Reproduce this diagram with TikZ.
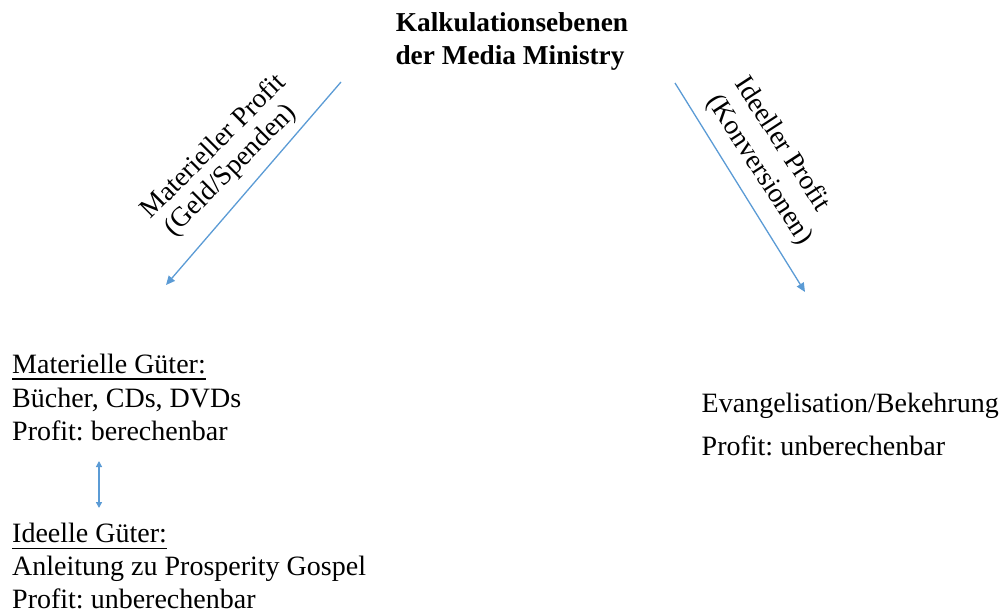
\documentclass[tikz,border=0pt]{standalone}
\usepackage{fontspec}
\setmainfont{Liberation Serif}
\usetikzlibrary{arrows.meta}
\definecolor{arrowblue}{HTML}{5B9BD5}
\begin{document}
\frenchspacing
\begin{tikzpicture}[x=1pt,y=-1pt,
  txt/.style={inner sep=0pt,font=\fontsize{28}{33}\selectfont},
  lbl/.style={txt,anchor=base west},
  rot/.style={inner sep=0pt,anchor=center,font=\fontsize{27.5}{33}\selectfont},
  ttl/.style={inner sep=0pt,anchor=base,font=\fontsize{27.3}{33}\selectfont\bfseries},
  flow/.style={draw=arrowblue,line width=1.3pt,-{Triangle[length=9pt,width=8pt]}},
  dflow/.style={draw=arrowblue,line width=1.3pt,{Triangle[length=6pt,width=6pt]}-{Triangle[length=6pt,width=6pt]}},
  uline/.style={line width=1.2pt}]
\useasboundingbox (0,0) rectangle (1003,612);
% title
\node[ttl] (t1) at (512,32) {Kalkulationsebenen};
\node[ttl] (t2) at (510,65) {der Media Ministry};
% arrows
\coordinate (la) at (341,82);
\coordinate (lb) at (166,285);
\coordinate (ra) at (675,83);
\coordinate (rb) at (805,292);
\draw[flow] (la) -- (lb);
\draw[flow] (ra) -- (rb);
% rotated labels
\node[rot,rotate=45] (ml1) at (212,145) {Materieller Profit};
\node[rot,rotate=45] (ml2) at (231,171) {(Geld/Spenden)};
\node[rot,rotate=-57] (il1) at (784,143) {Ideeller Profit};
\node[rot,rotate=-57] (il2) at (759,170) {(Konversionen)};
% left block
\node[lbl] (m1) at (12,373) {Materielle Güter:};
\node[lbl] (m2) at (12,407) {Bücher, CDs, DVDs};
\node[lbl] (m3) at (12,440) {Profit: berechenbar};
\draw[uline] ([yshift=-6pt]m1.base west) -- ([yshift=-6pt]m1.base east);
\coordinate (da) at (99,461);
\coordinate (db) at (99,508);
\draw[dflow] (da) -- (db);
\node[lbl] (i1) at (12,542.5) {Ideelle Güter:};
\node[lbl] (i2) at (12,575) {Anleitung zu Prosperity Gospel};
\node[lbl] (i3) at (12,608) {Profit: unberechenbar};
\draw[uline] ([yshift=-6pt]i1.base west) -- ([yshift=-6pt]i1.base east);
% right block
\node[lbl] (e1) at (701.5,412) {Evangelisation/Bekehrung};
\node[lbl] (e2) at (701.5,455) {Profit: unberechenbar};
\end{tikzpicture}
\end{document}
